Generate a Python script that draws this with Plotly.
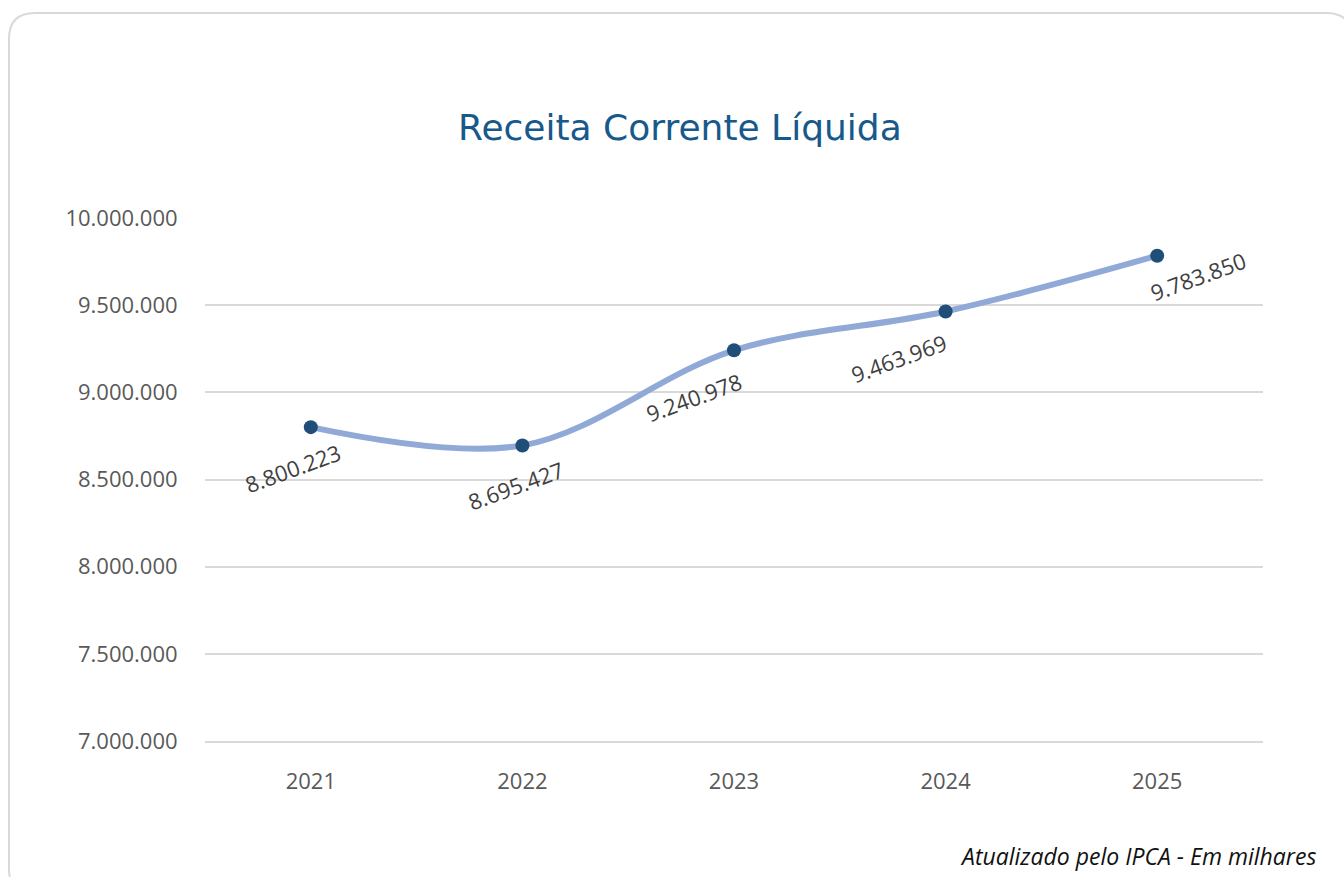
import plotly.graph_objects as go

# Receita Corrente Líquida por ano (R$ mil, atualizado pelo IPCA)
anos = ["2021", "2022", "2023", "2024", "2025"]
receita = [8800223, 8695427, 9240978, 9463969, 9783850]
rotulos = ["8.800.223", "8.695.427", "9.240.978", "9.463.969", "9.783.850"]
y_ticks = [7000000, 7500000, 8000000, 8500000, 9000000, 9500000, 10000000]
y_tick_text = ["7.000.000", "7.500.000", "8.000.000", "8.500.000",
               "9.000.000", "9.500.000", "10.000.000"]

W, H = 1344, 877
ML, MR, MT, MB = 205, 81, 218, 136
PW, PH = W - ML - MR, H - MT - MB


def px(x):
    return (x - ML) / PW


def py(y):
    return (H - MB - y) / PH


fig = go.Figure()
fig.add_trace(go.Scatter(
    x=anos, y=receita,
    mode="lines+markers",
    line=dict(color="#90A9D6", width=6, shape="spline", smoothing=1.0),
    marker=dict(color="#1F4E79", size=14),
    hoverinfo="x+y",
))

# Data label offsets (pixels) relative to each point
label_shift = [(-18, -41), (-6, -40), (-40, -47), (-47, -47), (41, -20)]
for i, (v, t, (dx, dy)) in enumerate(zip(receita, rotulos, label_shift)):
    fig.add_annotation(
        x=i, y=v, xref="x", yref="y", text=t, showarrow=False,
        textangle=-20, xshift=dx, yshift=dy,
        font=dict(family="Open Sans", size=22, color="#404040"),
    )

# Title
fig.add_annotation(
    x=px(680), y=py(127), xref="paper", yref="paper",
    text="Receita Corrente Líquida", showarrow=False,
    xanchor="center", yanchor="middle",
    font=dict(family="DejaVu Sans", size=36, color="#17598A"),
)

# Footer note
fig.add_annotation(
    x=px(1318), y=py(856), xref="paper", yref="paper",
    text="<i>Atualizado pelo IPCA - Em milhares</i>", showarrow=False,
    xanchor="right", yanchor="middle",
    font=dict(family="Open Sans", size=23, color="#111111"),
)

# Rounded outer frame
x0, y0, x1, y1, r = 9, 13, 1352, 895, 26
path = (
    f"M {px(x0)},{py(y0 + r)} "
    f"Q {px(x0)},{py(y0)} {px(x0 + r)},{py(y0)} "
    f"L {px(x1 - r)},{py(y0)} "
    f"Q {px(x1)},{py(y0)} {px(x1)},{py(y0 + r)} "
    f"L {px(x1)},{py(y1 - r)} "
    f"Q {px(x1)},{py(y1)} {px(x1 - r)},{py(y1)} "
    f"L {px(x0 + r)},{py(y1)} "
    f"Q {px(x0)},{py(y1)} {px(x0)},{py(y1 - r)} Z"
)
fig.add_shape(type="path", path=path, xref="paper", yref="paper",
              line=dict(color="#D9D9D9", width=2), layer="below")

fig.update_layout(
    width=W, height=H,
    margin=dict(l=ML, r=MR, t=MT, b=MB),
    paper_bgcolor="white", plot_bgcolor="white",
    showlegend=False,
    separators=",.",
    font=dict(family="Open Sans", color="#595959"),
)
fig.update_xaxes(
    type="category", range=[-0.5, 4.5],
    showgrid=False, zeroline=False,
    showline=True, linecolor="#D9D9D9", linewidth=1.5,
    ticks="outside", ticklen=20, tickcolor="rgba(0,0,0,0)",
    tickfont=dict(family="Open Sans", size=22, color="#595959"),
)
fig.update_yaxes(
    range=[7000000, 10000000],
    tickvals=y_ticks, ticktext=y_tick_text,
    showgrid=True, gridcolor="#D9D9D9", gridwidth=1.5,
    zeroline=False, showline=False,
    ticks="outside", ticklen=22, tickcolor="rgba(0,0,0,0)",
    tickfont=dict(family="Open Sans", size=22, color="#595959"),
)

fig.write_html("out.html")
